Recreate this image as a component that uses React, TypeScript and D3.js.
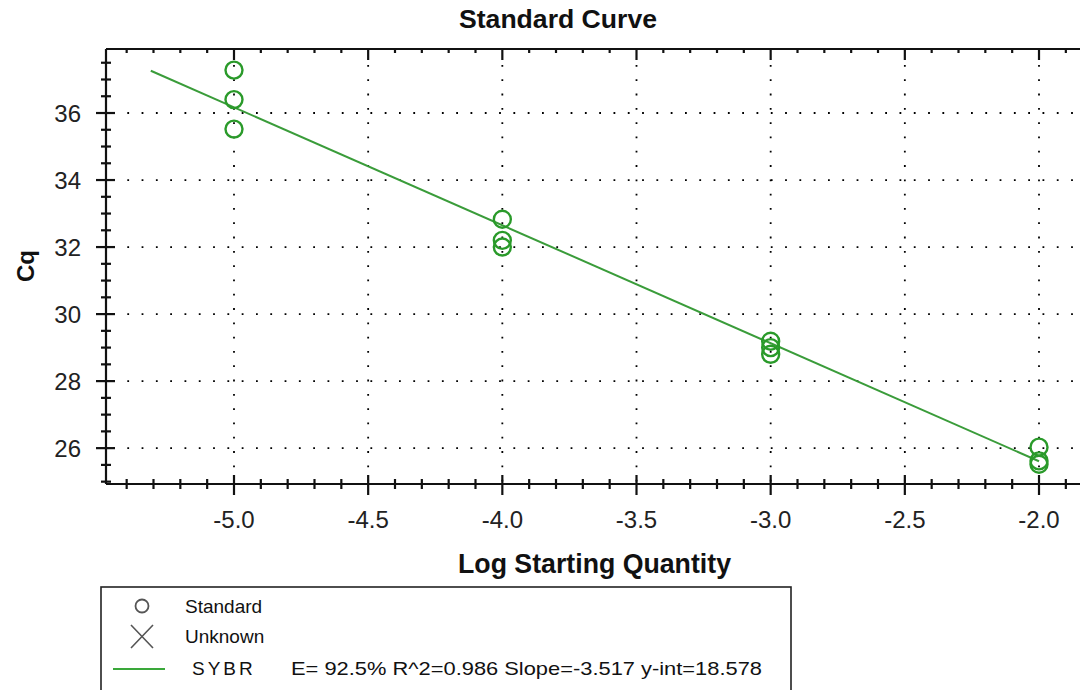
import React, { useRef, useEffect } from 'react';
import * as d3 from 'd3';

// Standards: log starting quantity vs Cq
const logQty = [-5, -5, -5, -4, -4, -4, -3, -3, -3, -2, -2, -2];
const cqValues = [37.28, 36.4, 35.52, 32.83, 32.2, 32.0, 29.19, 29.0, 28.8, 26.03, 25.62, 25.52];

// Fitted line endpoints
const fitX = [-5.31, -2.0];
const fitCq = [37.26, 25.61];

const xMajorTicks = [-5.0, -4.5, -4.0, -3.5, -3.0, -2.5, -2.0];
const yMajorTicks = [26, 28, 30, 32, 34, 36];

const legendItems = ['Standard', 'Unknown'];
const fitName = 'SYBR';
const fitStats = 'E= 92.5%  R^2=0.986 Slope=-3.517 y-int=18.578';

const App: React.FC = () => {
  const svgRef = useRef<SVGSVGElement | null>(null);
  const width = 1080;
  const height = 690;

  useEffect(() => {
    if (!svgRef.current) return;
    const svg = d3.select(svgRef.current);
    svg.selectAll('*').remove();

    const left = 106;
    const top = 49;
    const bottom = 484;

    const x = d3.scaleLinear().domain([-5.477, -1.523]).range([left, 1167]);
    const y = d3.scaleLinear().domain([24.93, 37.91]).range([bottom, top]);

    const green = '#2a9a2a';
    const font = '"Liberation Sans", Arial, sans-serif';

    // dotted grid
    const grid = svg.append('g');
    grid.selectAll('line.h')
      .data(yMajorTicks)
      .enter()
      .append('line')
      .attr('x1', left + 7)
      .attr('x2', width + 20)
      .attr('y1', d => y(d))
      .attr('y2', d => y(d))
      .attr('stroke', '#000')
      .attr('stroke-width', 1.8)
      .attr('stroke-dasharray', '1.8,12.5');
    grid.selectAll('line.v')
      .data(xMajorTicks)
      .enter()
      .append('line')
      .attr('x1', d => x(d))
      .attr('x2', d => x(d))
      .attr('y1', top + 16)
      .attr('y2', bottom)
      .attr('stroke', '#000')
      .attr('stroke-width', 1.8)
      .attr('stroke-dasharray', '1.8,12.5');

    // frame (left, top, bottom)
    const axisG = svg.append('g').attr('stroke', '#111').attr('stroke-width', 2.2);
    axisG.append('line').attr('x1', left).attr('x2', width + 10).attr('y1', top).attr('y2', top);
    axisG.append('line').attr('x1', left).attr('x2', width + 10).attr('y1', bottom).attr('y2', bottom);
    axisG.append('line').attr('x1', left).attr('x2', left).attr('y1', top).attr('y2', bottom);

    // x ticks
    const xMinor = d3.range(-54, -15).map(v => v / 10).filter(v => x(v) > left + 2);
    const isMajorX = (v: number) => Math.abs(v * 2 - Math.round(v * 2)) < 1e-6;
    xMinor.forEach(v => {
      const px = x(v);
      const maj = isMajorX(v);
      axisG.append('line').attr('x1', px).attr('x2', px)
        .attr('y1', bottom - (maj ? 9 : 5)).attr('y2', bottom + (maj ? 11 : 5));
      axisG.append('line').attr('x1', px).attr('x2', px)
        .attr('y1', top).attr('y2', top + (maj ? 11 : 4));
    });

    // y ticks
    const yMinor = d3.range(50, 76).map(v => v / 2);
    yMinor.forEach(v => {
      const py = y(v);
      const maj = v % 2 === 0;
      axisG.append('line').attr('x1', left - (maj ? 10 : 5)).attr('x2', left + (maj ? 9 : 5))
        .attr('y1', py).attr('y2', py);
    });

    // tick labels
    svg.append('g').selectAll('text')
      .data(xMajorTicks)
      .enter()
      .append('text')
      .attr('x', d => x(d))
      .attr('y', 528)
      .attr('text-anchor', 'middle')
      .attr('font-family', font)
      .attr('font-size', 24)
      .attr('fill', '#222')
      .text(d => d.toFixed(1));

    svg.append('g').selectAll('text')
      .data(yMajorTicks)
      .enter()
      .append('text')
      .attr('x', 81)
      .attr('y', d => y(d) + 8.5)
      .attr('text-anchor', 'end')
      .attr('font-family', font)
      .attr('font-size', 24)
      .attr('fill', '#222')
      .text(d => String(d));

    // titles
    svg.append('text')
      .attr('x', 459)
      .attr('y', 28)
      .attr('font-family', font)
      .attr('font-weight', 'bold')
      .attr('font-size', 25)
      .attr('textLength', 198)
      .attr('lengthAdjust', 'spacingAndGlyphs')
      .attr('fill', '#111')
      .text('Standard Curve');

    svg.append('text')
      .attr('x', 458)
      .attr('y', 573)
      .attr('font-family', font)
      .attr('font-weight', 'bold')
      .attr('font-size', 27)
      .attr('textLength', 273)
      .attr('lengthAdjust', 'spacingAndGlyphs')
      .attr('fill', '#111')
      .text('Log Starting Quantity');

    svg.append('text')
      .attr('transform', 'translate(34,266) rotate(-90)')
      .attr('text-anchor', 'middle')
      .attr('font-family', font)
      .attr('font-weight', 'bold')
      .attr('font-size', 24)
      .attr('fill', '#111')
      .text('Cq');

    // fit line
    const line = d3.line<number>()
      .x(d => x(d))
      .y((_, i) => y(fitCq[i]));
    svg.append('path')
      .datum(fitX)
      .attr('fill', 'none')
      .attr('stroke', '#3a9c3a')
      .attr('stroke-width', 2)
      .attr('d', line);

    // points
    svg.append('g').selectAll('circle')
      .data(logQty)
      .enter()
      .append('circle')
      .attr('cx', d => x(d))
      .attr('cy', (_, i) => y(cqValues[i]))
      .attr('r', 8.5)
      .attr('fill', 'none')
      .attr('stroke', green)
      .attr('stroke-width', 2.4);

    // legend
    const lg = svg.append('g');
    lg.append('rect')
      .attr('x', 101)
      .attr('y', 587)
      .attr('width', 690)
      .attr('height', 130)
      .attr('fill', 'white')
      .attr('stroke', '#222')
      .attr('stroke-width', 1.6);

    lg.append('circle')
      .attr('cx', 142).attr('cy', 606).attr('r', 6.5)
      .attr('fill', 'none').attr('stroke', '#555').attr('stroke-width', 1.8);
    lg.append('path')
      .attr('d', 'M131,625 L153,648 M153,625 L131,648')
      .attr('stroke', '#555').attr('stroke-width', 1.6);
    lg.append('line')
      .attr('x1', 113).attr('x2', 165).attr('y1', 669).attr('y2', 669)
      .attr('stroke', '#3aa83a').attr('stroke-width', 2);

    lg.selectAll('text.item')
      .data(legendItems)
      .enter()
      .append('text')
      .attr('x', 185)
      .attr('y', (_, i) => 613 + i * 30)
      .attr('font-family', font)
      .attr('font-size', 19)
      .attr('fill', '#111')
      .text(d => d);

    lg.append('text')
      .attr('x', 192)
      .attr('y', 675)
      .attr('font-family', font)
      .attr('font-size', 19)
      .attr('letter-spacing', 3)
      .attr('fill', '#111')
      .text(fitName);

    lg.append('text')
      .attr('x', 291)
      .attr('y', 675)
      .attr('font-family', font)
      .attr('font-size', 19)
      .attr('textLength', 471)
      .attr('lengthAdjust', 'spacingAndGlyphs')
      .attr('fill', '#111')
      .text(fitStats);
  }, []);

  return (
    <svg
      ref={svgRef}
      width={width}
      height={height}
      style={{ position: 'absolute', left: 0, top: 0, background: 'white' }}
    />
  );
};

export default App;
